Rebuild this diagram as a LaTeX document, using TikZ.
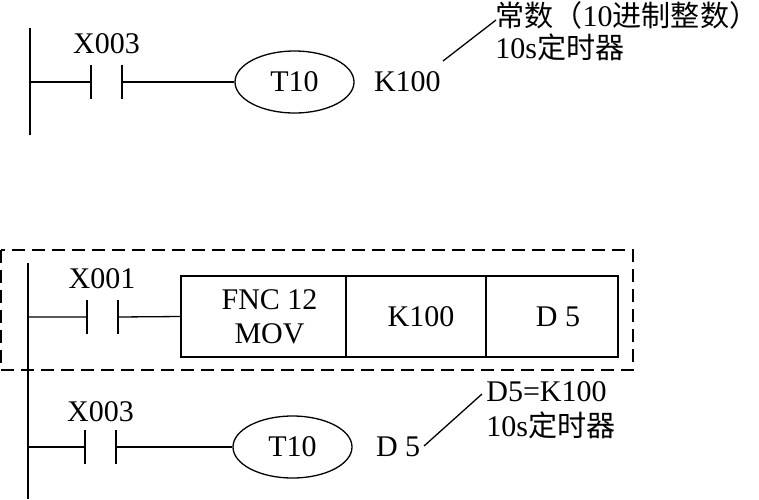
\documentclass[tikz,border=0pt]{standalone}
\usepackage{fontspec}
\setmainfont{Liberation Serif}
\newfontfamily\cjk[Scale=0.97]{Noto Sans CJK SC}
\usetikzlibrary{positioning,shapes.geometric}

\begin{document}
\begin{tikzpicture}[x=0.5pt, y=-0.5pt,
    font=\fontsize{15}{16.5}\selectfont,
    rail/.style={line width=1pt},
    wire/.style={line width=0.65pt},
    contact/.style={minimum width=15.5pt, minimum height=17pt, inner sep=0pt, outer sep=0pt},
    plate/.style={line width=1pt},
    coil/.style={ellipse, draw, line width=0.65pt, minimum width=59.5pt, minimum height=31pt, inner sep=0pt},
    cell/.style={draw, line width=0.55pt, minimum height=40.5pt, inner sep=0pt, outer sep=0pt, align=center},
    tag/.style={inner sep=0pt, align=left}]
  \useasboundingbox (0,0) rectangle (759,499);
  % timer with constant K
  \draw [rail] (30,28) -- (30,135);
  \coordinate (rail1) at (30,82);
  \node [contact] (x3a) at (106.5,82) {};
  \draw [plate] (x3a.north west) -- (x3a.south west) (x3a.north east) -- (x3a.south east);
  \node [tag, above=5.5pt of x3a] {X003};
  \node [coil] (t1) at (294.5,82) {T10};
  \draw [wire] (rail1) -- (x3a.west) (x3a.east) -- (t1.west);
  \node [tag, right=9.5pt of t1] (k1) {K100};
  \node [tag, anchor=west, font=\fontsize{15}{16}\selectfont] (note1) at (495,31)
    {{\cjk 常数（}10{\cjk 进制整数）}\\10s{\cjk 定时器}};
  \coordinate (lead1a) at (443,61);
  \coordinate (lead1b) at (496,20);
  \draw [wire] (lead1a) -- (lead1b);

  % MOV into D5, then timer with D5
  \draw [dashed, wire, dash pattern=on 6.5pt off 3.5pt] (1,250) rectangle (633,370);
  \draw [rail] (28,263) -- (28,499);
  \coordinate (rail2) at (28,317);
  \coordinate (rail3) at (28,447);
  \node [contact] (x1) at (102,317) {};
  \draw [plate] (x1.north west) -- (x1.south west) (x1.north east) -- (x1.south east);
  \node [tag, above=5.5pt of x1] {X001};
  \node [cell, minimum width=82.5pt, font=\fontsize{15}{17}\selectfont] (fnc) at (263.5,316.5) {\hspace*{6pt}FNC 12\\\hspace*{6pt}MOV};
  \node [cell, minimum width=70pt, right=0pt of fnc] (src) {\hspace*{5pt}K100};
  \node [cell, minimum width=66pt, right=0pt of src] (dst) {\hspace*{6pt}D 5};
  \draw [wire] (rail2) -- (x1.west) (x1.east) -- (fnc.west);

  \node [contact] (x3b) at (100.5,447) {};
  \draw [plate] (x3b.north west) -- (x3b.south west) (x3b.north east) -- (x3b.south east);
  \node [tag, above=4pt of x3b] {X003};
  \node [coil] (t2) at (292.5,447) {T10};
  \draw [wire] (rail3) -- (x3b.west) (x3b.east) -- (t2.west);
  \node [tag, right=11.5pt of t2] (d5) {D 5};
  \node [tag, anchor=west, font=\fontsize{15}{17.5}\selectfont] (note2) at (486,410)
    {D5=K100\\10s{\cjk 定时器}};
  \coordinate (lead2a) at (424,446);
  \coordinate (lead2b) at (482,394);
  \draw [wire] (lead2a) -- (lead2b);
\end{tikzpicture}
\end{document}
